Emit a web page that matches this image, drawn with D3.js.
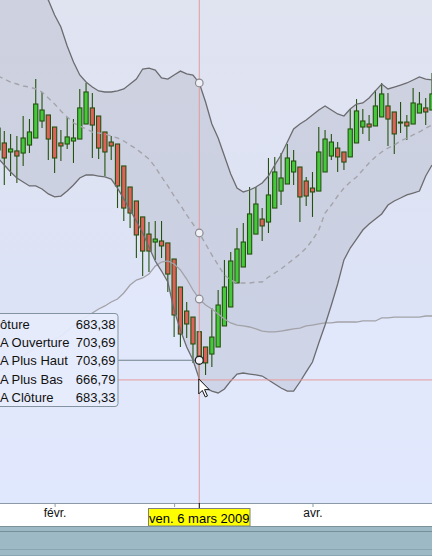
<!DOCTYPE html>
<html><head><meta charset="utf-8">
<script src="https://cdn.jsdelivr.net/npm/d3@7/dist/d3.min.js"></script>
<style>html,body{margin:0;padding:0;overflow:hidden;background:#fff}svg{display:block}</style>
</head><body>
<svg id="chart" width="432" height="556"></svg>
<script>
// ---- data (S&P 500, Heikin-Ashi candles, daily) ----
const dates = ["2009-01-20","2009-01-21","2009-01-22","2009-01-23","2009-01-26","2009-01-27","2009-01-28","2009-01-29","2009-01-30",
"2009-02-02","2009-02-03","2009-02-04","2009-02-05","2009-02-06","2009-02-09","2009-02-10","2009-02-11","2009-02-12","2009-02-13",
"2009-02-17","2009-02-18","2009-02-19","2009-02-20","2009-02-23","2009-02-24","2009-02-25","2009-02-26","2009-02-27",
"2009-03-02","2009-03-03","2009-03-04","2009-03-05","2009-03-06","2009-03-09","2009-03-10","2009-03-11","2009-03-12","2009-03-13",
"2009-03-16","2009-03-17","2009-03-18","2009-03-19","2009-03-20","2009-03-23","2009-03-24","2009-03-25","2009-03-26","2009-03-27",
"2009-03-30","2009-03-31","2009-04-01","2009-04-02","2009-04-03","2009-04-06","2009-04-07","2009-04-08","2009-04-09",
"2009-04-13","2009-04-14","2009-04-15","2009-04-16","2009-04-17","2009-04-20","2009-04-21","2009-04-22","2009-04-23","2009-04-24",
"2009-04-27","2009-04-28","2009-04-29"];
const haOpen  = [842.7,848.1,841.2,842.0,840.4,846.5,851.9,864.9,869.5,860.3,848.1,847.3,849.6,851.1,862.6,874.9,868.7,856.5,848.8,
847.3,830.5,814.4,803.7,791.5,778.4,772.3,773.1,771.6,759.3,737.9,719.5,714.9,703.69,692.0,686.6,692.0,708.1,722.6,741.0,753.2,
763.1,778.4,789.9,787.6,798.3,811.3,816.7,825.9,829.7,819.0,813.6,811.3,825.9,838.1,844.2,841.2,837.4,848.1,860.3,862.6,861.1,
868.0,876.4,871.8,863.4,864.1,862.6,871.0,874.9,873.3];
const haHigh  = [865.7,857.3,855.0,853.4,868.7,866.4,897.0,887.1,869.5,860.3,858.0,868.0,866.4,889.4,894.0,886.3,868.7,856.5,853.4,
847.3,830.5,814.4,803.7,791.5,787.6,788.4,788.4,771.6,759.3,737.9,726.4,714.9,703.69,692.0,721.8,735.6,758.6,764.7,783.0,786.9,
814.4,814.4,798.3,836.6,837.4,840.4,847.3,842.7,829.7,822.1,825.9,860.3,858.0,855.0,848.8,841.2,874.1,881.7,874.1,869.5,888.6,
894.0,886.3,871.8,879.4,869.5,890.2,887.1,882.5,901.6];
const haLow   = [832.8,815.9,822.8,817.5,830.5,840.4,851.9,859.5,835.1,825.1,834.3,843.5,832.8,851.1,862.6,836.6,835.8,822.8,835.1,
798.3,788.4,783.0,760.1,746.3,749.4,758.6,760.1,734.1,699.6,692.0,698.9,679.8,666.79,670.6,676.7,692.0,708.1,722.6,741.0,753.2,
763.1,778.4,773.1,779.2,798.3,800.6,816.7,815.9,787.6,799.9,791.5,811.3,825.9,835.1,825.9,827.4,837.4,848.1,855.0,849.6,861.1,
868.0,845.8,839.7,855.7,850.4,862.6,871.0,861.8,873.3];
const haClose = [859.5,836.6,843.5,838.1,851.9,856.5,877.9,873.3,851.1,836.6,845.8,852.7,851.9,874.9,887.1,861.8,844.2,841.2,845.8,
815.2,798.3,794.5,777.7,765.4,765.4,774.6,769.3,747.8,716.5,701.9,709.6,694.3,683.33,679.8,699.6,724.1,737.9,757.8,767.0,772.3,
793.8,801.4,784.6,808.3,825.9,821.3,836.6,834.3,806.8,807.5,810.6,841.2,851.1,848.8,837.4,833.5,858.8,872.6,864.9,860.3,876.4,
885.6,866.4,855.0,864.1,861.1,878.7,877.9,871.8,885.6];
// Bollinger bands (20 days) and the lighter moving line
const upperBand = [962.1,962.8,963.6,965.1,965.1,966.7,963.6,960.5,957.5,946.0,936.8,922.3,910.0,900.1,894.7,890.9,887.9,887.1,887.1,
887.9,889.4,893.2,897.0,904.7,905.4,903.9,897.8,897.0,900.1,903.1,900.9,900.1,894.0,879.4,862.6,851.9,838.1,824.3,813.6,810.6,
812.1,814.4,817.5,822.8,831.2,838.9,848.8,858.8,862.6,865.7,869.5,873.3,876.4,873.3,870.3,868.7,874.1,877.9,878.7,882.5,887.9,
893.2,889.4,890.9,892.4,894.0,896.3,898.6,897.0,896.3];
const middleBand = [899.3,897.0,894.7,893.2,891.7,890.9,889.4,887.1,882.5,877.9,872.6,868.0,863.4,861.1,858.8,856.5,855.7,855.0,853.4,
851.9,849.6,846.5,843.5,839.7,835.8,829.7,822.1,815.2,807.5,800.6,793.0,786.1,779.2,770.8,762.4,754.7,747.1,743.2,741.0,741.0,
741.0,741.7,741.7,745.5,748.6,751.7,755.5,759.3,763.1,767.7,773.9,781.5,794.5,800.6,807.5,813.6,818.2,822.1,827.4,832.8,837.4,
841.2,844.2,846.5,849.6,851.9,854.2,856.5,859.5,861.8];
const lowerBand = [836.6,831.2,825.9,821.3,818.2,815.2,815.2,812.9,809.1,806.8,807.5,811.3,815.9,821.3,823.6,823.6,822.8,822.1,820.5,
813.6,805.3,796.8,788.4,779.2,768.5,757.8,750.1,741.7,720.3,705.0,692.0,682.0,667.5,660.6,658.3,656.8,659.9,666.0,671.3,672.1,
671.3,670.6,669.8,666.7,663.7,660.6,658.3,658.3,665.2,672.9,680.5,695.0,708.8,724.1,740.2,758.6,767.7,774.6,781.5,786.1,789.9,
793.8,800.6,803.7,806.0,808.3,809.8,811.3,822.8,831.2];
const lightLine = [672.9,675.9,679.0,682.0,685.1,688.2,691.2,693.5,695.8,698.1,700.4,704.2,708.1,711.9,714.9,718.0,721.1,723.4,726.4,
728.7,733.3,739.4,743.2,744.8,747.8,753.9,757.0,757.8,755.5,750.9,744.0,735.6,728.7,724.1,721.1,717.3,713.4,710.4,708.8,708.1,
707.3,705.8,704.2,703.5,703.5,704.2,705.0,705.8,706.5,708.1,708.8,709.6,710.4,710.4,711.1,711.1,711.1,711.1,711.9,711.9,711.9,
714.2,714.2,714.9,714.9,714.9,714.9,714.9,715.7,715.7];
const monthTicks = ["2009-02-02","2009-03-02","2009-04-01"];
const monthLabels = ["févr.","","avr."];   // "mars" is hidden behind the cursor date label
const cursorDate = "2009-03-06";
const cursorLabel = "ven. 6 mars 2009";
const cursorClose = 683.38;
const tipLabels = ["Clôture","HA Ouverture","HA Plus Haut","HA Plus Bas","HA Clôture"];
const tipValues = ["683,38","703,69","703,69","666,79","683,33"];

// ---- layout ----
const W = 432, H = 556, plotBottom = 503;
const svg = d3.select("#chart");
const x = d3.scalePoint().domain(dates).range([-2.0, 432.0]);
const y = d3.scaleLinear().domain([572.63, 957.48]).range([plotBottom, 0]);
const idx = d3.range(dates.length);
const FONT = "Liberation Sans, Arial, sans-serif";

const defs = svg.append("defs");
const g1 = defs.append("linearGradient").attr("id","bg").attr("x1",0).attr("y1",0).attr("x2",0).attr("y2",1);
g1.append("stop").attr("offset","0%").attr("stop-color","#e0e3f0");
g1.append("stop").attr("offset","55%").attr("stop-color","#dde3f6");
g1.append("stop").attr("offset","100%").attr("stop-color","#d9e4fc");
defs.append("clipPath").attr("id","plot").append("rect").attr("x",0).attr("y",0).attr("width",W).attr("height",plotBottom);

svg.append("rect").attr("width",W).attr("height",plotBottom).attr("fill","url(#bg)");
const plot = svg.append("g").attr("clip-path","url(#plot)");

// light area under the light line
plot.append("path").datum(idx)
  .attr("d", d3.area().x(i=>x(dates[i])).y0(plotBottom).y1(i=>y(lightLine[i])))
  .attr("fill","rgba(232,238,255,0.45)");
// Bollinger fill
plot.append("path").datum(idx)
  .attr("d", d3.area().x(i=>x(dates[i])).y0(i=>y(lowerBand[i])).y1(i=>y(upperBand[i])))
  .attr("fill","rgba(150,155,172,0.25)");

// candles
const cg = plot.append("g");
const bw = 4.2;
idx.forEach(i=>{
  const cx = x(dates[i]);
  cg.append("line").attr("x1",cx).attr("x2",cx).attr("y1",y(haHigh[i])).attr("y2",y(haLow[i]))
    .attr("stroke","#24520e").attr("stroke-width",1.1);
  const up = haClose[i] >= haOpen[i];
  const top = y(Math.max(haOpen[i],haClose[i])), bot = y(Math.min(haOpen[i],haClose[i]));
  cg.append("rect").attr("x",cx-bw/2).attr("y",top).attr("width",bw).attr("height",Math.max(1,bot-top))
    .attr("fill", up ? "#46c83c" : "#e0605a").attr("stroke","#24520e").attr("stroke-width",1.1);
});

// lines
const ln = f => d3.line().x(i=>x(dates[i])).y(i=>y(f[i]));
plot.append("path").datum(idx).attr("d", ln(lightLine)).attr("fill","none").attr("stroke","#a2a2a8").attr("stroke-width",1.3);
plot.append("path").datum(idx).attr("d", ln(middleBand)).attr("fill","none").attr("stroke","#a4a4aa").attr("stroke-width",1.4).attr("stroke-dasharray","5,4");
plot.append("path").datum(idx).attr("d", ln(upperBand)).attr("fill","none").attr("stroke","#6c6c70").attr("stroke-width",1.3);
plot.append("path").datum(idx).attr("d", ln(lowerBand)).attr("fill","none").attr("stroke","#6c6c70").attr("stroke-width",1.3);

// crosshair
const ci = dates.indexOf(cursorDate), cx0 = x(cursorDate);
svg.append("line").attr("x1",cx0).attr("x2",cx0).attr("y1",0).attr("y2",plotBottom).attr("stroke","#e49a9a").attr("stroke-width",1);
const tipRight = 118;
svg.append("line").attr("x1",tipRight).attr("x2",W).attr("y1",y(haLow[ci])).attr("y2",y(haLow[ci])).attr("stroke","#e49a9a").attr("stroke-width",1);
svg.append("line").attr("x1",tipRight).attr("x2",cx0).attr("y1",y(cursorClose)+2).attr("y2",y(cursorClose)+2).attr("stroke","#6f8088").attr("stroke-width",1);

[upperBand, middleBand, lightLine].forEach(a=>{
  svg.append("circle").attr("cx",cx0).attr("cy",y(a[ci])).attr("r",3.8).attr("fill","#eef0f6").attr("stroke","#8a8a90").attr("stroke-width",1.2);
});
svg.append("circle").attr("cx",cx0).attr("cy",y(cursorClose)+2).attr("r",4).attr("fill","#f4f4f8").attr("stroke","#222").attr("stroke-width",1.3);

// mouse pointer
svg.append("path").attr("transform",`translate(${cx0-0.5},${y(haLow[ci])-1})`)
  .attr("d","M0,0 L0,15 L3.5,11.5 L6.5,18 L8.7,17 L5.8,10.7 L10.5,10.7 Z")
  .attr("fill","#fff").attr("stroke","#111").attr("stroke-width",1);

// tooltip (its left part lies beyond the window edge, as in the original)
const tip = svg.append("g");
tip.append("rect").attr("x",-10).attr("y",313.5).attr("width",tipRight+10).attr("height",93)
  .attr("rx",3).attr("fill","rgba(230,236,252,0.93)").attr("stroke","#8393a0").attr("stroke-width",1);
tipLabels.forEach((t,k)=>{
  const yy = 329 + k*18.2;
  tip.append("text").attr("x", k===0 ? -12.2 : -9.4).attr("y",yy).text(t)
    .attr("font-family",FONT).attr("font-size",13).attr("fill","#111");
  tip.append("text").attr("x",115.5).attr("y",yy).attr("text-anchor","end").text(tipValues[k])
    .attr("font-family",FONT).attr("font-size",13).attr("fill","#111");
});

// x axis
svg.append("rect").attr("x",0).attr("y",plotBottom).attr("width",W).attr("height",23).attr("fill","#ffffff");
svg.append("line").attr("x1",0).attr("x2",W).attr("y1",plotBottom+0.5).attr("y2",plotBottom+0.5).attr("stroke","#8a9aa6");
const xAxis = d3.axisBottom(x).tickValues(monthTicks).tickSize(4).tickFormat((d)=>monthLabels[monthTicks.indexOf(d)]);
const ax = svg.append("g").attr("transform",`translate(0,${plotBottom})`).call(xAxis);
ax.select(".domain").remove();
ax.selectAll(".tick line").attr("stroke","#8a9aa6");
ax.selectAll(".tick text").attr("font-family",FONT).attr("font-size",12).attr("fill","#111").attr("dy","0.55em");
svg.append("line").attr("x1",cx0).attr("x2",cx0).attr("y1",plotBottom).attr("y2",plotBottom+5).attr("stroke","#000");
// cursor date label
svg.append("rect").attr("x",148.5).attr("y",508.5).attr("width",101.5).attr("height",17.5).attr("fill","#ffff00").attr("stroke","#808080");
svg.append("text").attr("x",199.3).attr("y",523).attr("text-anchor","middle").text(cursorLabel)
  .attr("font-family",FONT).attr("font-size",13).attr("fill","#000");

// scroll bar strip
svg.append("rect").attr("x",0).attr("y",526).attr("width",W).attr("height",30).attr("fill","#9cb9c5");
svg.append("line").attr("x1",0).attr("x2",W).attr("y1",526.5).attr("y2",526.5).attr("stroke","#7c929c");
svg.append("line").attr("x1",0).attr("x2",W).attr("y1",531.5).attr("y2",531.5).attr("stroke","#778d98");
svg.append("line").attr("x1",0).attr("x2",W).attr("y1",549.5).attr("y2",549.5).attr("stroke","#8aa4b0");
svg.append("line").attr("x1",0).attr("x2",W).attr("y1",555.5).attr("y2",555.5).attr("stroke","#8aa4b0");
</script>
</body></html>
